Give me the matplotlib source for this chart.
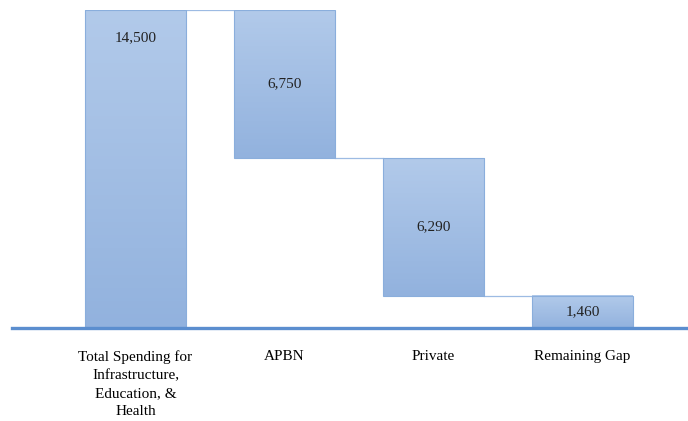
import numpy as np
import matplotlib.pyplot as plt
from matplotlib.colors import LinearSegmentedColormap

# funding breakdown (billion)
categories = ["Total Spending for\nInfrastructure,\nEducation, &\nHealth",
              "APBN", "Private", "Remaining Gap"]
values = [14500, 6750, 6290, 1460]
value_labels = ["14,500", "6,750", "6,290", "1,460"]

plt.rcParams['font.family'] = ['Liberation Serif', 'DejaVu Serif']

fig = plt.figure(figsize=(6.88, 4.21), dpi=100)
ax = fig.add_axes([12 / 688, 93 / 421, 676 / 688, 318 / 421])

# waterfall: first bar is the total, the rest step down from it
bottoms = [0]
level = values[0]
for v in values[1:]:
    level -= v
    bottoms.append(level)
tops = [b + v for b, v in zip(bottoms, values)]

width = 101 / 149
grad = LinearSegmentedColormap.from_list("bar", ["#92b2de", "#b2caea"])
shade = np.linspace(0, 1, 256).reshape(-1, 1)

x = np.arange(len(values))
for i, (b, t) in enumerate(zip(bottoms, tops)):
    ax.imshow(shade, cmap=grad, origin="lower", aspect="auto",
              extent=(x[i] - width / 2, x[i] + width / 2, b, t), zorder=2)
    ax.add_patch(plt.Rectangle((x[i] - width / 2, b), width, t - b,
                               fill=False, edgecolor="#8aaedc", lw=0.8, zorder=3))
    if i == 0:
        ty = t - 28 / 318 * values[0]
    else:
        ty = (b + t) / 2
    ax.text(x[i], ty, value_labels[i], ha="center", va="center",
            fontsize=11, color="#222222", zorder=4)

# connectors from each bar to the top of the next one
for i in range(len(values) - 1):
    ax.plot([x[i] + width / 2, x[i + 1] - width / 2], [tops[i + 1]] * 2,
            color="#9dbbe3", lw=0.9, zorder=1)

ax.set_xlim(-123.5 / 149, 552.5 / 149)
ax.set_ylim(0, values[0])
ax.set_xticks(x)
ax.set_xticklabels(categories, fontsize=11, linespacing=1.5)
ax.tick_params(axis="x", length=0, pad=16)
ax.set_yticks([])
for s in ["top", "left", "right"]:
    ax.spines[s].set_visible(False)
ax.spines["bottom"].set_color("#5b8ecf")
ax.spines["bottom"].set_linewidth(2.4)
ax.spines["bottom"].set_zorder(5)

fig.savefig("out.png", dpi=100)
